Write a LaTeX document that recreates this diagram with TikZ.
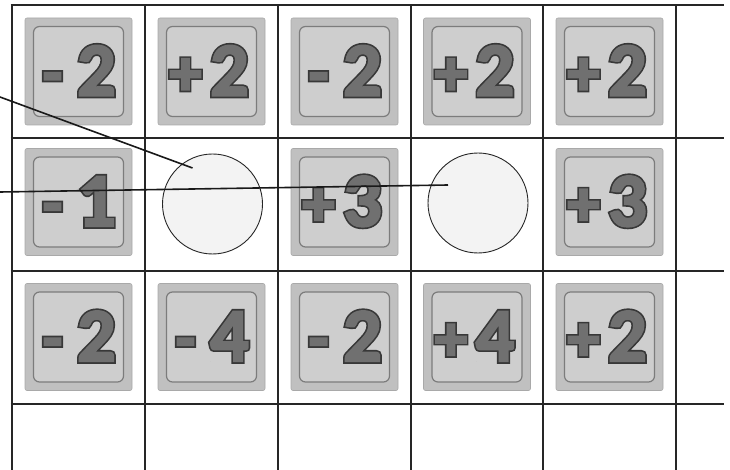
\documentclass[tikz,border=0pt]{standalone}
\usepackage{fontspec}
\newfontfamily\tilefont{Carlito}
\usetikzlibrary{calc}
\definecolor{tileout}{HTML}{C0C0C0}
\definecolor{tilein}{HTML}{CECECE}
\definecolor{tileframe}{HTML}{7C7C7C}
\definecolor{numfill}{HTML}{707070}
\definecolor{discfill}{HTML}{F3F3F3}
% fat dark rim, then fill-coloured body on top
\newcommand\rimtext[1]{\special{pdf:literal direct 2 Tr 5.5 w 0.22 G}#1\special{pdf:literal direct 0 Tr}}
\newcommand\bodytext[1]{\special{pdf:literal direct 2 Tr 2.2 w 0.44 G}#1\special{pdf:literal direct 0 Tr}}
\tikzset{
  boardline/.style={line width=2.6pt, draw=black!85},
  tilebox/.style={fill=tileout, draw=tileout!88!black, line width=0.6pt, rounded corners=2pt, minimum size=107pt, inner sep=0pt},
  tileframebox/.style={fill=tilein, draw=tileframe, line width=1.2pt, rounded corners=6pt, minimum size=90pt, inner sep=0pt},
  digitfont/.style={text=numfill, font=\tilefont\bfseries\fontsize{76}{76}\selectfont, inner sep=0pt, anchor=base},
  signfont/.style={text=numfill, font=\tilefont\bfseries\fontsize{64}{64}\selectfont, inner sep=0pt, anchor=base},
  disc/.style={circle, fill=discfill, draw=black!85, line width=0.9pt, minimum size=100pt, inner sep=0pt},
  link/.style={line width=1.6pt, draw=black!90}
}
\newcommand\placetile[4]{%
  \node[tilebox] (#1) at (#2) {};
  \node[tileframebox] at (#1.center) {};
  \node[signfont] at ($(#1.center)+(-26,23)$) {\rimtext{#3}};
  \node[signfont] (#1-s) at ($(#1.center)+(-26,23)$) {\bodytext{#3}};
  \node[digitfont] at ($(#1.center)+(18,24)$) {\rimtext{#4}};
  \node[digitfont] (#1-d) at ($(#1.center)+(18,24)$) {\bodytext{#4}};
}
\begin{document}
\begin{tikzpicture}[x=1pt,y=-1pt]
\useasboundingbox (0,0) rectangle (730,470);
% board lines
\foreach \gx in {12,145,278,411,543,676}
  \draw[boardline] (\gx,5) -- (\gx,470);
\foreach \gy in {5,138,271,404}
  \draw[boardline] (10.7,\gy) -- (724,\gy);
% row 1
\placetile{t11}{78.5,71.5}{-}{2}
\placetile{t12}{211.5,71.5}{+}{2}
\placetile{t13}{344.5,71.5}{-}{2}
\placetile{t14}{477,71.5}{+}{2}
\placetile{t15}{609.5,71.5}{+}{2}
% row 2
\placetile{t21}{78.5,202}{-}{1}
\placetile{t23}{344.5,202}{+}{3}
\placetile{t25}{609.5,202}{+}{3}
% row 3
\placetile{t31}{78.5,337}{-}{2}
\placetile{t32}{211.5,337}{-}{4}
\placetile{t33}{344.5,337}{-}{2}
\placetile{t34}{477,337}{+}{4}
\placetile{t35}{609.5,337}{+}{2}
% discs
\node[disc] (c1) at (212.5,204) {};
\node[disc] (c2) at (478,203) {};
% connectors
\coordinate (s1) at (0,97);
\coordinate (s2) at (0,192);
\coordinate (e1) at ($(c1.center)+(-20,-36)$);
\coordinate (e2) at ($(c2.center)+(-30,-18)$);
\draw[link] (s1) -- (e1);
\draw[link] (s2) -- (e2);
\end{tikzpicture}
\end{document}
